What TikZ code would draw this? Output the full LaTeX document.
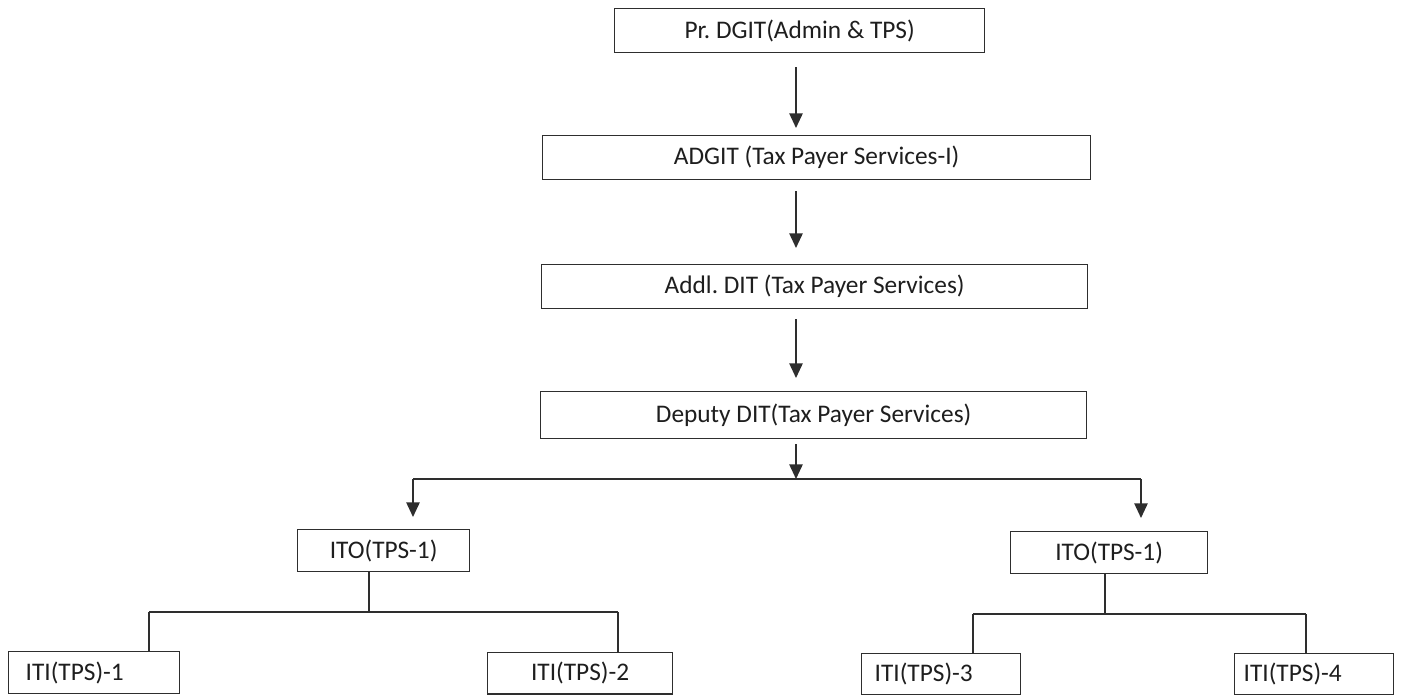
\documentclass[tikz,border=0pt]{standalone}
\usepackage{fontspec}
\setmainfont{Carlito}
\usetikzlibrary{arrows.meta}
\frenchspacing
\definecolor{ink}{HTML}{1E1E1E}
\definecolor{linec}{HTML}{2E2E2E}
\tikzset{
  box/.style={draw=linec, line width=1pt, rectangle, anchor=north west, inner ysep=0pt,
              text=ink, font=\fontsize{19pt}{22pt}\selectfont, align=center},
  conn/.style={draw=linec, line width=1.2pt},
  arr/.style={conn, -{Triangle[length=11pt,width=10pt]}}
}
\begin{document}
\begin{tikzpicture}[x=0.75pt,y=-0.75pt]
\useasboundingbox[fill=white] (0,0) rectangle (1410,695);

\node[box, minimum width=277.5pt, minimum height=33pt, inner xsep=0pt] (b1) at (614,8) {Pr. DGIT(Admin \& TPS)};
\node[box, minimum width=411pt, minimum height=33pt, inner xsep=0pt] (b2) at (542,135) {ADGIT (Tax Payer Services-I)};
\node[box, minimum width=409.5pt, minimum height=33pt, inner xsep=0pt] (b3) at (541,264) {Addl. DIT (Tax Payer Services)};
\node[box, minimum width=409.5pt, minimum height=35.25pt, inner xsep=0pt] (b4) at (540,391) {Deputy DIT(Tax Payer Services)};

\node[box, minimum width=129pt, minimum height=31.5pt, inner xsep=0pt] (itoL) at (297,529) {ITO(TPS-1)};
\node[box, minimum width=147.75pt, minimum height=31.5pt, inner xsep=0pt] (itoR) at (1010,531) {ITO(TPS-1)};

\node[box, text width=102.75pt, inner xsep=12.75pt, align=left, minimum height=31.5pt] (iti1) at (8,651) {ITI(TPS)-1};
\node[box, minimum width=138.75pt, minimum height=31pt, inner xsep=0pt] (iti2) at (487,652) {ITI(TPS)-2};
\node[box, text width=99.75pt, inner xsep=9.75pt, align=left, minimum height=30.75pt] (iti3) at (861,653) {ITI(TPS)-3};
\node[box, text width=105.75pt, inner xsep=6.75pt, align=left, minimum height=30.75pt] (iti4) at (1234,653) {ITI(TPS)-4};

\coordinate (ax) at (796,0);
\draw[arr, shorten <=10.5pt, shorten >=5.25pt] (b1.south -| ax) -- (b2.north -| ax);
\draw[arr, shorten <=8.25pt, shorten >=12pt] (b2.south -| ax) -- (b3.north -| ax);
\draw[arr, shorten <=7.5pt, shorten >=9.75pt] (b3.south -| ax) -- (b4.north -| ax);

\coordinate (j) at (796,479);
\coordinate (hl) at (413,479);
\coordinate (hr) at (1141,479);
\draw[arr, shorten <=3.75pt] (b4.south -| ax) -- (j);
\draw[conn] (hl) -- (hr);
\draw[arr, shorten >=9pt] (hl) -- (hl |- itoL.north);
\draw[arr, shorten >=9.75pt] (hr) -- (hr |- itoR.north);

\coordinate (lj) at (369,612);
\coordinate (l1) at (149,612);
\coordinate (l2) at (618,612);
\draw[conn] (itoL.south -| lj) -- (lj);
\draw[conn] (l1) -- (l2);
\draw[conn] (l1) -- (l1 |- iti1.north);
\draw[conn] (l2) -- (l2 |- iti2.north);

\coordinate (rj) at (1105,614);
\coordinate (r1) at (973,614);
\coordinate (r2) at (1306,614);
\draw[conn] (itoR.south -| rj) -- (rj);
\draw[conn] (r1) -- (r2);
\draw[conn] (r1) -- (r1 |- iti3.north);
\draw[conn] (r2) -- (r2 |- iti4.north);
\end{tikzpicture}
\end{document}
